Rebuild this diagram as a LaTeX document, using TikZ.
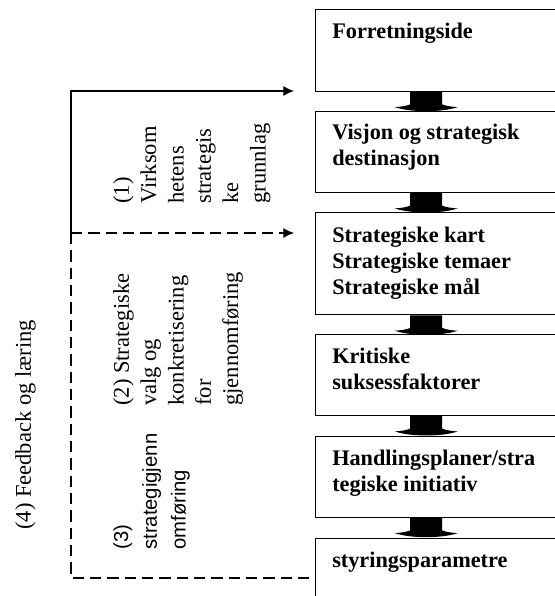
\documentclass[tikz,border=0pt]{standalone}
\usepackage{fontspec}
\setmainfont{Liberation Serif}
\newfontfamily\labsans{Liberation Sans}
\usetikzlibrary{arrows.meta}
\newdimen\px \px=0.75pt
\begin{document}
\begin{tikzpicture}[x=0.75pt,y=-0.75pt,
  box/.style={draw=black, line width=0.8pt, rectangle, anchor=north west, minimum width=300\px, inner sep=0pt},
  btext/.style={anchor=base west, inner sep=0pt, align=left, font=\fontsize{16.7pt}{19.5pt}\selectfont\bfseries},
  rotlab/.style={rotate=90, anchor=base west, inner sep=0pt, align=left, font=\fontsize{16.9pt}{20.5pt}\selectfont},
  conn/.style={line width=0.8pt},
  tipped/.style={-{Latex[length=8pt,width=7.5pt]}},
  dsh/.style={dash pattern=on 8.5pt off 4.5pt},
  blockarr/.pic={
    \fill[black] (-16,0) -- (-16,12.6) .. controls (-20,14.3) and (-26,15) .. (-31.5,15.4)
      .. controls (-20,19) and (-8,19.3) .. (0,19.4)
      .. controls (8,19.3) and (20,19) .. (31.5,15.4)
      .. controls (26,15) and (20,14.3) .. (16,12.6) -- (16,0) -- cycle;
  }
]
\useasboundingbox (0,0) rectangle (555,596);
\clip (0,0) rectangle (555,596);
\fill[white] (0,0) rectangle (555,596);

% boxes
\node[box, minimum height=81.7\px] (b1) at (315,9) {};
\node[box, minimum height=81\px] (b2) at (315,111) {};
\node[box, minimum height=102\px] (b3) at (315,212.3) {};
\node[box, minimum height=80.7\px] (b4) at (315,334.3) {};
\node[box, minimum height=80.7\px] (b5) at (315,436) {};
\node[box, minimum height=90\px] (b6) at (315,537.7) {};

% box texts (anchor = baseline of the last line)
\node[btext] (t1) at ([shift={(17,29.8)}]b1.north west) {Forretningside};
\node[btext] (t2) at ([shift={(17,54.5)}]b2.north west) {Visjon og strategisk\\destinasjon};
\node[btext] (t3) at ([shift={(17,81.8)}]b3.north west) {Strategiske kart\\Strategiske temaer\\Strategiske mål};
\node[btext] (t4) at ([shift={(17,55)}]b4.north west) {Kritiske\\suksessfaktorer};
\node[btext] (t5) at ([shift={(17,55)}]b5.north west) {Handlingsplaner/stra\\tegiske initiativ};
\node[btext] (t6) at ([shift={(17,30)}]b6.north west) {styringsparametre};

% block arrows
\pic at ([xshift=111.2\px]b1.south west) {blockarr};
\pic at ([xshift=111.2\px]b2.south west) {blockarr};
\pic at ([xshift=111.2\px]b3.south west) {blockarr};
\pic at ([xshift=111.2\px]b4.south west) {blockarr};
\pic at ([xshift=111.2\px]b5.south west) {blockarr};

% feedback connectors
\coordinate (j1) at (71,233);
\coordinate (a1) at (294,91);
\coordinate (a2) at (294,233);
\coordinate (j3) at (71,578);
\draw[conn,tipped] (j1) |- (a1);
\draw[conn,dsh,tipped] (j1) -- (a2);
\draw[conn,dsh] (j1) -- (j3) -- (j3 -| b6.west);

% rotated labels (anchor = baseline of the last line)
\node[rotlab] (l1) at (265.5,204) {(1)\\Virksom\\hetens\\strategis\\ke\\grunnlag};
\node[rotlab] (l2) at (238.2,406) {(2) Strategiske\\valg og\\konkretisering\\for\\gjennomføring};
\node[rotlab, font=\labsans\fontsize{15.2pt}{21.6pt}\selectfont] (l3) at (185.6,550) {(3)\\strategigjenn\\omføring};
\node[rotlab] (l4) at (31,530) {(4) Feedback og læring};
\end{tikzpicture}
\end{document}
